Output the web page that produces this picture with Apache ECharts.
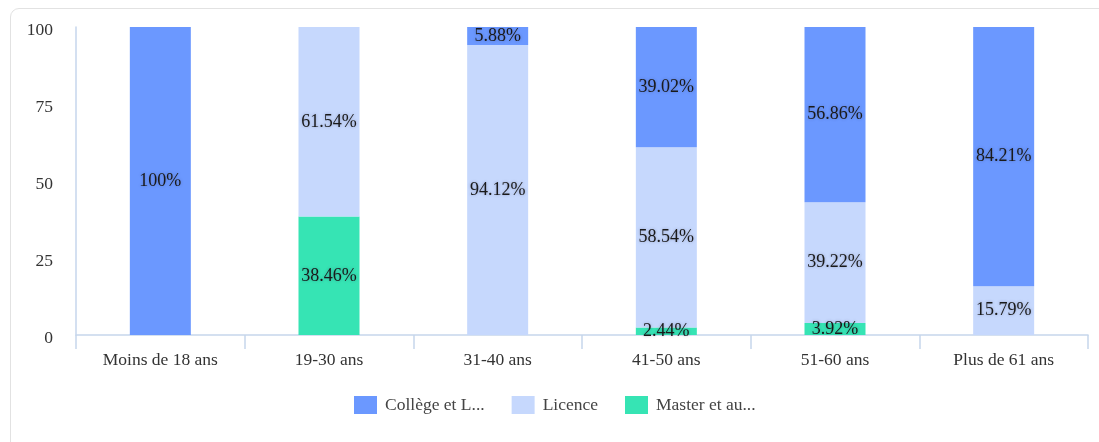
<!DOCTYPE html>
<html>
<head>
<meta charset="utf-8">
<script src="https://cdn.jsdelivr.net/npm/echarts@6/dist/echarts.min.js"></script>
<style>
html,body{margin:0;padding:0;width:1099px;height:442px;overflow:hidden;background:#fff;}
#frame{position:absolute;left:10px;top:8px;width:1200px;height:600px;border:1.5px solid #e2e2e2;border-radius:9px;box-sizing:border-box;}
#chart{position:absolute;left:0;top:0;width:1099px;height:442px;}
</style>
</head>
<body>
<div id="frame"></div>
<div id="chart"></div>
<script>
const categories = ['Moins de 18 ans', '19-30 ans', '31-40 ans', '41-50 ans', '51-60 ans', 'Plus de 61 ans'];
const seriesNames = ['Collège et L...', 'Licence', 'Master et au...'];
const college = [100, 0, 5.88, 39.02, 56.86, 84.21];
const licence = [0, 61.54, 94.12, 58.54, 39.22, 15.79];
const master = [0, 38.46, 0, 2.44, 3.92, 0];
const yTicks = [0, 25, 50, 75, 100];

const colors = ['#6b98ff', '#c6d8fd', '#36e4b4'];
const font = '"Liberation Serif", "DejaVu Serif", serif';

function mk(name, data, color) {
  return {
    name: name, type: 'bar', stack: 'total', data: data, barWidth: 61,
    itemStyle: { color: color },
    label: {
      show: true, position: 'inside',
      formatter: p => p.value === 0 ? '' : (p.value + '%'),
      fontFamily: font, fontSize: 18, color: '#1a1a1a',
      textShadowColor: 'rgba(40,40,80,0.35)', textShadowBlur: 3
    }
  };
}

const chart = echarts.init(document.getElementById('chart'));
chart.setOption({
  animation: false,
  color: colors,
  grid: { left: 76, right: 11, top: 27, bottom: 107 },
  legend: {
    top: 391, left: 349, itemWidth: 23, itemHeight: 18, itemGap: 27,
    icon: 'rect',
    textStyle: { fontFamily: font, fontSize: 17.5, color: '#444', padding: [0, 0, 0, 3] },
    data: seriesNames
  },
  xAxis: {
    type: 'category', data: categories,
    axisLine: { lineStyle: { color: '#c6d6ec', width: 1.5 } },
    axisTick: { show: true, length: 14, alignWithLabel: false, lineStyle: { color: '#c6d6ec', width: 1.5 } },
    axisLabel: { fontFamily: font, fontSize: 17.5, color: '#333', margin: 16 }
  },
  yAxis: {
    type: 'value', min: 0, max: 100, interval: 25,
    axisLine: { show: true, lineStyle: { color: '#c6d6ec', width: 1.5 } },
    axisTick: { show: false },
    splitLine: { show: false },
    axisLabel: { fontFamily: font, fontSize: 17.5, color: '#333', margin: 23,
      verticalAlign: 'top', lineHeight: 6,
      formatter: v => yTicks.includes(v) ? String(v) : '' }
  },
  series: [
    mk(seriesNames[2], master, colors[2]),
    mk(seriesNames[1], licence, colors[1]),
    mk(seriesNames[0], college, colors[0])
  ]
});
</script>
</body>
</html>
